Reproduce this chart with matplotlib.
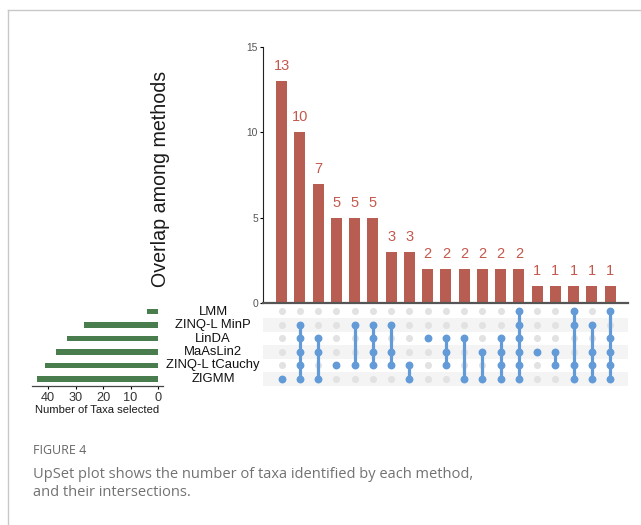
import matplotlib
matplotlib.use("Agg")
import matplotlib.pyplot as plt
from matplotlib.lines import Line2D

# Methods (matrix rows, top to bottom) and number of taxa each selected
methods = ["LMM", "ZINQ-L MinP", "LinDA", "MaAsLin2", "ZINQ-L tCauchy", "ZIGMM"]
set_sizes = [4, 27, 33, 37, 41, 44]

# Intersection sizes and which methods share them
intersection_sizes = [13, 10, 7, 5, 5, 5, 3, 3, 2, 2, 2, 2, 2, 2, 1, 1, 1, 1, 1]
intersection_members = [
    ["ZIGMM"],
    ["ZINQ-L MinP", "LinDA", "MaAsLin2", "ZINQ-L tCauchy", "ZIGMM"],
    ["LinDA", "MaAsLin2", "ZIGMM"],
    ["ZINQ-L tCauchy"],
    ["ZINQ-L MinP", "ZINQ-L tCauchy"],
    ["ZINQ-L MinP", "LinDA", "MaAsLin2", "ZINQ-L tCauchy"],
    ["ZINQ-L MinP", "MaAsLin2", "ZINQ-L tCauchy"],
    ["ZINQ-L tCauchy", "ZIGMM"],
    ["LinDA"],
    ["LinDA", "MaAsLin2", "ZINQ-L tCauchy"],
    ["LinDA", "ZIGMM"],
    ["MaAsLin2", "ZIGMM"],
    ["LinDA", "MaAsLin2", "ZINQ-L tCauchy", "ZIGMM"],
    ["LMM", "ZINQ-L MinP", "LinDA", "MaAsLin2", "ZINQ-L tCauchy", "ZIGMM"],
    ["MaAsLin2"],
    ["MaAsLin2", "ZINQ-L tCauchy"],
    ["LMM", "ZINQ-L MinP", "ZINQ-L tCauchy", "ZIGMM"],
    ["ZINQ-L MinP", "MaAsLin2", "ZINQ-L tCauchy", "ZIGMM"],
    ["LMM", "LinDA", "MaAsLin2", "ZINQ-L tCauchy", "ZIGMM"],
]
bar_ticks = [0, 5, 10, 15]
set_ticks = [0, 10, 20, 30, 40]

W, H = 641, 525
BAR_RED = "#b85d52"
LABEL_RED = "#c4584c"
GREEN = "#4a7d4e"
BLUE = "#629bd7"
DOT_GREY = "#e2e2e2"
CAPTION_FONT = ["Open Sans", "DejaVu Sans"]

plt.rcParams["font.family"] = ["Liberation Sans", "DejaVu Sans"]

fig = plt.figure(figsize=(W / 100, H / 100), dpi=100)


def px_axes(x0, y0, x1, y1):
    """Axes from pixel box (left, top, right, bottom)."""
    return fig.add_axes([x0 / W, 1 - y1 / H, (x1 - x0) / W, (y1 - y0) / H])


# Frame around the figure panel
fig.add_artist(Line2D([7.5 / W, 1], [1 - 9.5 / H, 1 - 9.5 / H], color="#c8c8c8", lw=1.0))
fig.add_artist(Line2D([7.5 / W, 7.5 / W], [1 - 9.5 / H, 0], color="#c8c8c8", lw=1.0))

n = len(intersection_sizes)
xs = list(range(n))
xlim = (-1.02, n - 1 + 0.98)

# Intersection size bars
axb = px_axes(263, 46.7, 628, 303.3)
axb.bar(xs, intersection_sizes, width=0.6, color=BAR_RED)
for x, v in zip(xs, intersection_sizes):
    axb.annotate(str(v), (x, v), xytext=(0, 10.8), textcoords="offset points",
                 ha="center", va="center", color=LABEL_RED, fontsize=10.5)
axb.set_xlim(*xlim)
axb.set_ylim(0, 15)
axb.set_yticks(bar_ticks)
axb.set_xticks([])
axb.tick_params(axis="y", labelsize=7.4, labelcolor="#555555", length=2.5, width=0.8, pad=1)
for s in ("top", "right"):
    axb.spines[s].set_visible(False)
axb.spines["left"].set_color("#222222")
axb.spines["left"].set_linewidth(0.8)
axb.spines["bottom"].set_color("#555555")
axb.spines["bottom"].set_linewidth(1.6)
fig.text(161 / W, 1 - 179 / H, "Overlap among methods", rotation=90,
         ha="center", va="center", fontsize=14.1, color="#1a1a1a")

# Membership matrix
row_of = {m: i for i, m in enumerate(methods)}
axm = px_axes(263, 304, 628, 385.7)
axm.set_xlim(*xlim)
axm.set_ylim(len(methods) - 0.5, -0.55)
for i in range(len(methods)):
    if i % 2 == 1:
        axm.axhspan(i - 0.5, i + 0.5, color="#f4f4f4", lw=0, zorder=0)
for x in xs:
    axm.scatter([x] * len(methods), range(len(methods)), s=26, color=DOT_GREY, lw=0, zorder=1)
for x, members in zip(xs, intersection_members):
    rows = sorted(row_of[m] for m in members)
    if len(rows) > 1:
        axm.plot([x, x], [rows[0], rows[-1]], color=BLUE, lw=2.3, zorder=2,
                 solid_capstyle="butt")
    axm.scatter([x] * len(rows), rows, s=32, color=BLUE, lw=0, zorder=3)
axm.axis("off")

# Set size bars
axs = px_axes(31.7, 304, 163.3, 385.7)
axs.barh(range(len(methods)), set_sizes, height=0.4, color=GREEN)
axs.set_ylim(len(methods) - 0.5, -0.55)
axs.set_xlim(46, -1.9)
axs.set_xticks(set_ticks)
axs.set_yticks([])
for s in ("top", "right", "left"):
    axs.spines[s].set_visible(False)
axs.spines["bottom"].set_color("#444444")
axs.spines["bottom"].set_linewidth(0.9)
axs.tick_params(axis="x", labelsize=9.2, labelcolor="#333333", length=2.5, width=0.8, pad=2)
axs.set_xlabel("Number of Taxa selected", fontsize=8.1, color="#1a1a1a", labelpad=1.0)

# Method names between the two panels
for i, m in enumerate(methods):
    y = 312 + 13.3 * i
    fig.text(213 / W, 1 - y / H, m, ha="center", va="center", fontsize=9.4, color="#111111")

# Caption
fig.text(33 / W, 1 - 450 / H, "FIGURE 4", ha="left", va="center",
         fontsize=9.0, color="#666666", family=CAPTION_FONT)
fig.text(33 / W, 1 - 475 / H,
         "UpSet plot shows the number of taxa identified by each method,",
         ha="left", va="center", fontsize=10.5, color="#727272", family=CAPTION_FONT)
fig.text(33 / W, 1 - 492 / H, "and their intersections.",
         ha="left", va="center", fontsize=10.5, color="#727272", family=CAPTION_FONT)

fig.savefig("out.png", dpi=100)
